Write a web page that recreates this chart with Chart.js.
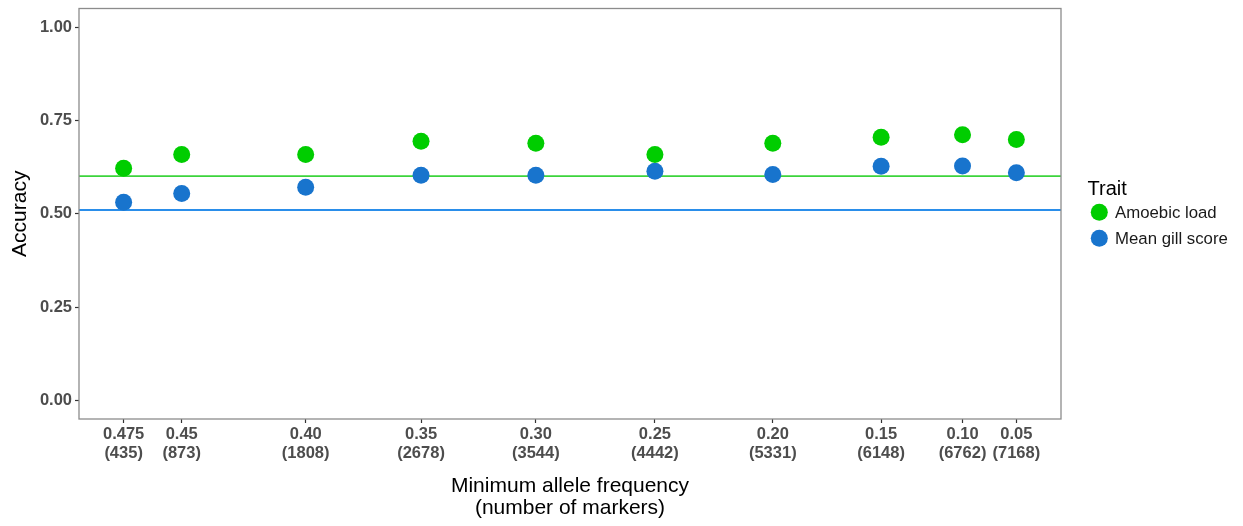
<!DOCTYPE html>
<html>
<head>
<meta charset="utf-8">
<script src="https://cdn.jsdelivr.net/npm/chart.js@4/dist/chart.umd.min.js"></script>
<style>
  html, body { margin: 0; padding: 0; background: #ffffff; }
  #wrap { width: 1243px; height: 526px; }
</style>
</head>
<body>
<div id="wrap"><canvas id="c" width="1243" height="526"></canvas></div>
<script>
// ---- data ----
const markers = [435, 873, 1808, 2678, 3544, 4442, 5331, 6148, 6762, 7168];
const mafLabels = ['0.475', '0.45', '0.40', '0.35', '0.30', '0.25', '0.20', '0.15', '0.10', '0.05'];
const amoebicLoad = [0.622, 0.659, 0.659, 0.694, 0.689, 0.659, 0.689, 0.705, 0.712, 0.699];
const meanGillScore = [0.531, 0.554, 0.571, 0.603, 0.603, 0.614, 0.605, 0.627, 0.628, 0.610];
const baselineAmoebic = 0.601;
const baselineGill = 0.510;
const yTicks = [0, 0.25, 0.5, 0.75, 1.0];
const traitNames = ['Amoebic load', 'Mean gill score'];

// ---- styles ----
const GREEN = '#00CD00';
const BLUE = '#1874CD';
const GREEN_LINE = '#3CD43C';
const BLUE_LINE = '#2A8EEA';
const TICK_FONT = { family: '"Liberation Sans", Arial, sans-serif', size: 16.5, weight: 'bold', lineHeight: 1.13 };

const xRange = markers[markers.length - 1] - markers[0];
const xMin = markers[0] - 0.05 * xRange;
const xMax = markers[markers.length - 1] + 0.05 * xRange;

const refLines = {
  id: 'refLines',
  beforeDatasetsDraw(chart) {
    const { ctx, chartArea, scales } = chart;
    ctx.save();
    ctx.lineWidth = 1.8;
    [[baselineAmoebic, GREEN_LINE], [baselineGill, BLUE_LINE]].forEach(([v, col]) => {
      const y = scales.y.getPixelForValue(v);
      ctx.strokeStyle = col;
      ctx.beginPath();
      ctx.moveTo(chartArea.left, y);
      ctx.lineTo(chartArea.right, y);
      ctx.stroke();
    });
    ctx.restore();
  },
  afterDraw(chart) {
    const { ctx, chartArea } = chart;
    ctx.save();
    // panel border
    ctx.strokeStyle = '#8C8C8C';
    ctx.lineWidth = 1.3;
    ctx.strokeRect(chartArea.left, chartArea.top, chartArea.right - chartArea.left, chartArea.bottom - chartArea.top);
    // legend
    ctx.fillStyle = '#000000';
    ctx.textAlign = 'left';
    ctx.textBaseline = 'alphabetic';
    ctx.font = '20px "Liberation Sans", Arial, sans-serif';
    ctx.fillText('Trait', 1087.5, 194.5);
    const cols = [GREEN, BLUE];
    const ys = [212.3, 238.3];
    ctx.font = '16.8px "Liberation Sans", Arial, sans-serif';
    traitNames.forEach((name, i) => {
      ctx.fillStyle = cols[i];
      ctx.beginPath();
      ctx.arc(1099.3, ys[i], 8.5, 0, Math.PI * 2);
      ctx.fill();
      ctx.fillStyle = '#1a1a1a';
      ctx.fillText(name, 1115, ys[i] + 5.5);
    });
    ctx.restore();
  }
};

new Chart(document.getElementById('c'), {
  type: 'scatter',
  data: {
    datasets: [
      {
        label: traitNames[0],
        data: markers.map((m, i) => ({ x: m, y: amoebicLoad[i] })),
        backgroundColor: GREEN,
        pointBackgroundColor: GREEN,
        pointBorderWidth: 0,
        pointRadius: 8.5,
        pointHoverRadius: 8.5
      },
      {
        label: traitNames[1],
        data: markers.map((m, i) => ({ x: m, y: meanGillScore[i] })),
        backgroundColor: BLUE,
        pointBackgroundColor: BLUE,
        pointBorderWidth: 0,
        pointRadius: 8.5,
        pointHoverRadius: 8.5
      }
    ]
  },
  options: {
    responsive: false,
    animation: false,
    events: [],
    layout: { padding: { top: 7.5, right: 182, left: 0, bottom: 0 } },
    plugins: { legend: { display: false }, tooltip: { enabled: false } },
    scales: {
      x: {
        type: 'linear',
        min: xMin,
        max: xMax,
        afterBuildTicks(scale) { scale.ticks = markers.map(v => ({ value: v })); },
        afterFit(scale) {
          scale.height = 107;
          scale.paddingLeft = 0; scale.paddingRight = 0;
        },
        grid: { display: true, drawOnChartArea: false, drawTicks: true, tickLength: 4, tickColor: '#333333', tickWidth: 1.2 },
        border: { display: false },
        ticks: {
          autoSkip: false,
          maxRotation: 0,
          padding: 2,
          color: '#4D4D4D',
          font: TICK_FONT,
          callback(value) {
            const i = markers.indexOf(value);
            return [mafLabels[i], '(' + markers[i] + ')'];
          }
        },
        title: {
          display: true,
          text: ['Minimum allele frequency', '(number of markers)'],
          color: '#000000',
          font: { family: '"Liberation Sans", Arial, sans-serif', size: 21, lineHeight: 1.03 },
          padding: { top: 0, bottom: 7.2 }
        }
      },
      y: {
        type: 'linear',
        min: -0.05,
        max: 1.05,
        afterBuildTicks(scale) { scale.ticks = yTicks.map(v => ({ value: v })); },
        afterFit(scale) {
          scale.width = 79;
          scale.paddingTop = 0; scale.paddingBottom = 0;
        },
        grid: { display: true, drawOnChartArea: false, drawTicks: true, tickLength: 4, tickColor: '#333333', tickWidth: 1.2 },
        border: { display: false },
        ticks: {
          padding: 3,
          color: '#4D4D4D',
          font: TICK_FONT,
          callback(value) { return value.toFixed(2); }
        },
        title: {
          display: true,
          text: 'Accuracy',
          color: '#000000',
          font: { family: '"Liberation Sans", Arial, sans-serif', size: 21, lineHeight: 1.2 },
          padding: { top: 7.5, bottom: 0 }
        }
      }
    }
  },
  plugins: [refLines]
});
</script>
</body>
</html>
